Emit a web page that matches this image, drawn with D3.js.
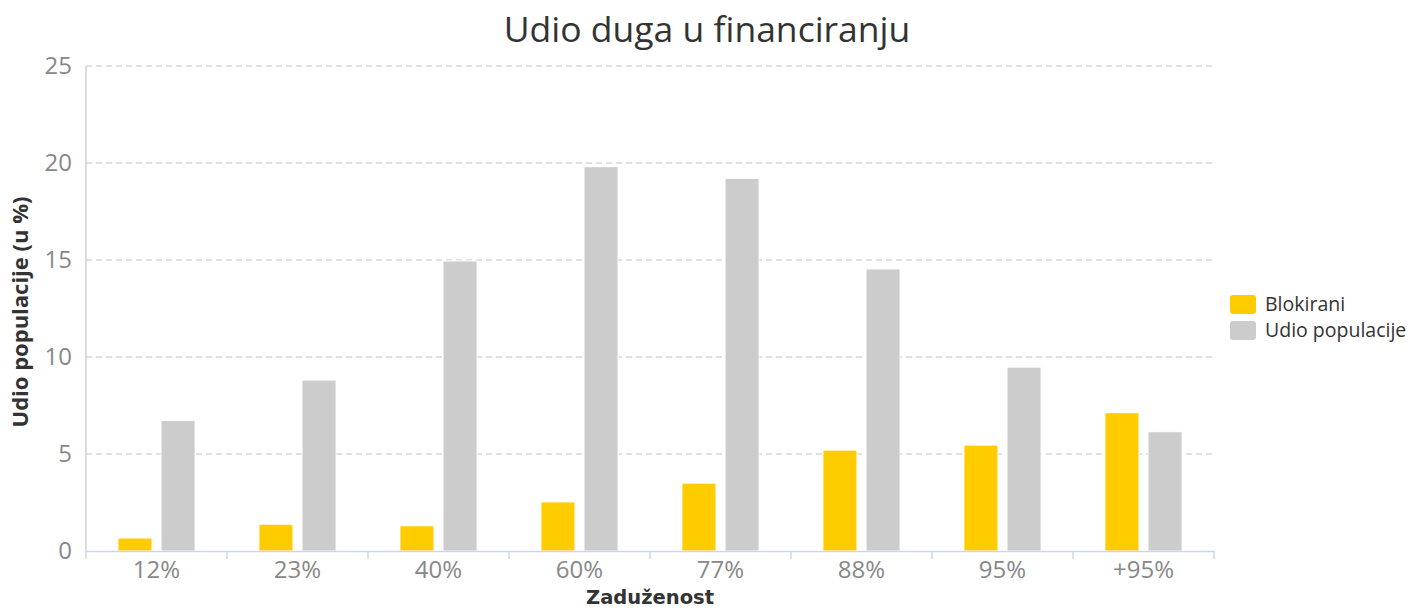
<!DOCTYPE html>
<html>
<head>
<meta charset="utf-8">
<script src="https://cdn.jsdelivr.net/npm/d3@7"></script>
<style>
  body { margin: 0; background: #fff; }
</style>
</head>
<body>
<div id="chart-area"></div>
<script>
var categories = ["12%", "23%", "40%", "60%", "77%", "88%", "95%", "+95%"];
var blokirani = [0.67, 1.38, 1.3, 2.53, 3.5, 5.2, 5.46, 7.13];
var udioPopulacije = [6.72, 8.81, 14.95, 19.81, 19.21, 14.54, 9.48, 6.15];
var seriesNames = ["Blokirani", "Udio populacije"];
var yTicks = [0, 5, 10, 15, 20, 25];

var colors = ["#ffcc00", "#cccccc"];

var margin = {left: 86, right: 201, top: 66, bottom: 59};
var width = 1415 - margin.left - margin.right;
var height = 610 - margin.top - margin.bottom;

var svg = d3.select('#chart-area')
    .append('svg')
        .attr('width', 1415)
        .attr('height', 610)
        .style('font-family', '"Open Sans", sans-serif');

var g = svg.append("g")
    .attr("transform", "translate(" + margin.left + ", " + margin.top + ")");

var x = d3.scaleBand()
    .domain(categories)
    .range([0, width]);

var x1 = d3.scaleBand()
    .domain(seriesNames)
    .range([0, x.bandwidth()])
    .paddingInner(0.21)
    .paddingOuter(0.74);

var y = d3.scaleLinear()
    .domain([0, 25])
    .range([height, 0]);

// gridlines
g.selectAll(".grid").data(yTicks.slice(1)).enter()
    .append("line")
    .attr("x1", 0)
    .attr("x2", width)
    .attr("y1", (d) => y(d))
    .attr("y2", (d) => y(d))
    .attr("stroke", "#d8d8d8")
    .attr("stroke-width", 1.5)
    .attr("stroke-dasharray", "6,4");

// y axis line
g.append("line")
    .attr("x1", 0).attr("x2", 0)
    .attr("y1", 0).attr("y2", height)
    .attr("stroke", "#d0d0d0")
    .attr("stroke-width", 1.5);

var data = categories.map((c, i) => {
    return {cat: c, values: [blokirani[i], udioPopulacije[i]]};
});

var groups = g.selectAll(".group").data(data).enter()
    .append("g")
    .attr("transform", (d) => "translate(" + x(d.cat) + ",0)");

groups.selectAll("rect")
    .data((d) => d.values.map((v, i) => ({name: seriesNames[i], value: v, i: i})))
    .enter()
    .append("rect")
    .attr("x", (d) => x1(d.name))
    .attr("y", (d) => y(d.value))
    .attr("width", x1.bandwidth())
    .attr("height", (d) => height - y(d.value))
    .attr("fill", (d) => colors[d.i])
    .attr("stroke", "#fff")
    .attr("stroke-width", 1);

// x axis
var xAxis = d3.axisBottom(x).tickSize(0).tickPadding(10);
var xg = g.append("g")
    .attr("transform", "translate(0, " + height + ")")
    .call(xAxis);
xg.select(".domain").attr("stroke", "#ccd6eb").attr("stroke-width", 1.5);
xg.selectAll("text")
    .style("font-size", "24px")
    .style("font-family", '"Open Sans", sans-serif')
    .attr("fill", "#888");

// tick marks at band boundaries
var bounds = categories.map((c) => x(c)).concat([width]);
xg.selectAll(".bt").data(bounds).enter()
    .append("line")
    .attr("x1", (d) => d).attr("x2", (d) => d)
    .attr("y1", 0).attr("y2", 8)
    .attr("stroke", "#ccd6eb")
    .attr("stroke-width", 1.5);

// y axis labels
var yAxis = d3.axisLeft(y).tickValues(yTicks).tickSize(0).tickPadding(14);
var yg = g.append("g").call(yAxis);
yg.select(".domain").remove();
yg.selectAll("text")
    .style("font-size", "24px")
    .style("font-family", '"Open Sans", sans-serif')
    .attr("fill", "#888");

// title
svg.append("text")
    .attr("x", 707)
    .attr("y", 42)
    .attr("text-anchor", "middle")
    .style("font-size", "35.5px")
    .attr("fill", "#333")
    .text("Udio duga u financiranju");

// axis titles
svg.append("text")
    .attr("x", margin.left + width / 2)
    .attr("y", 604)
    .attr("text-anchor", "middle")
    .style("font-size", "19.5px")
    .style("font-weight", "bold")
    .style("font-family", '"DejaVu Sans", sans-serif')
    .attr("fill", "#333")
    .text("Zaduženost");

svg.append("text")
    .attr("transform", "translate(28, 312) rotate(-90)")
    .attr("text-anchor", "middle")
    .style("font-size", "22px")
    .style("font-weight", "bold")
    .attr("fill", "#333")
    .text("Udio populacije (u %)");

// legend
var legend = svg.append("g").attr("transform", "translate(1230, 295)");
var li = legend.selectAll("g").data(seriesNames).enter()
    .append("g")
    .attr("transform", (d, i) => "translate(0," + (i * 26) + ")");
li.append("rect")
    .attr("width", 26)
    .attr("height", 19)
    .attr("rx", 3)
    .attr("fill", (d, i) => colors[i]);
li.append("text")
    .attr("x", 35)
    .attr("y", 16)
    .style("font-size", "19.5px")
    .attr("fill", "#333")
    .text((d) => d);
</script>
</body>
</html>
